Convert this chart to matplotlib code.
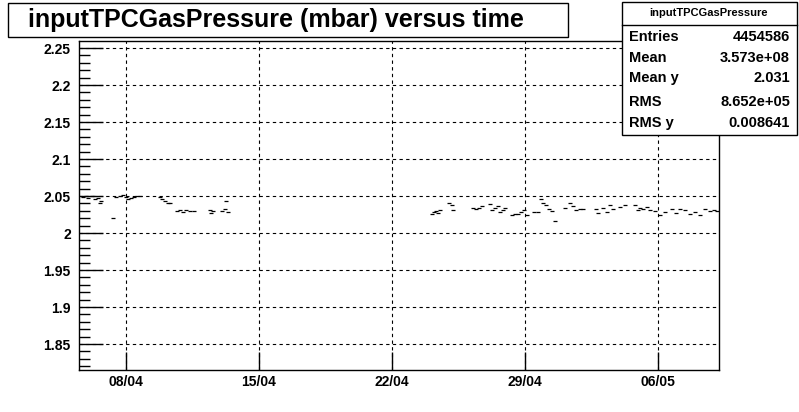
import matplotlib
matplotlib.use("Agg")
import matplotlib.pyplot as plt
import matplotlib.dates as mdates
from matplotlib.patches import Rectangle
from matplotlib.ticker import MultipleLocator, FixedLocator
from datetime import datetime, timedelta

# time as day of April (values > 30 run into May), pressure in mbar
day = [5.74, 5.89, 6.00, 6.21, 6.37, 6.53, 6.63, 6.68, 7.32, 7.47, 7.68, 7.84,
       8.00, 8.11, 8.26, 8.42, 8.58, 8.74, 9.79, 9.89, 10.05, 10.21, 10.32,
       10.68, 10.84, 11.00, 11.16, 11.37, 11.58, 12.42, 12.47, 12.58, 13.05,
       13.21, 13.26, 13.37,
       24.11, 24.21, 24.32, 24.42, 24.53, 25.00, 25.16, 25.21, 26.26, 26.42,
       26.58, 26.74, 27.16, 27.26, 27.42, 27.58, 27.68, 27.84, 27.95, 28.32,
       28.47, 28.63, 28.79, 28.95, 29.11, 29.47, 29.68, 29.84, 29.95, 30.11,
       30.26, 30.42, 30.58, 31.11, 31.37, 31.53, 31.68, 31.89, 32.05, 32.74,
       32.84, 33.11, 33.32, 33.47, 33.63, 34.00, 34.26, 34.79, 34.95, 35.05,
       35.21, 35.42, 35.58, 35.84, 36.11, 36.37, 36.74, 36.95, 37.16, 37.42,
       37.68, 37.95, 38.21, 38.47, 38.74, 38.95, 39.11]
pressure = [2.049, 2.050, 2.047, 2.050, 2.046, 2.047, 2.040, 2.043, 2.020, 2.049,
            2.050, 2.051, 2.049, 2.046, 2.047, 2.049, 2.050, 2.050, 2.049, 2.046,
            2.043, 2.040, 2.040, 2.030, 2.031, 2.028, 2.031, 2.030, 2.030, 2.031,
            2.027, 2.030, 2.030, 2.032, 2.043, 2.028,
            2.026, 2.028, 2.030, 2.027, 2.031, 2.041, 2.038, 2.031, 2.034, 2.032,
            2.034, 2.036, 2.039, 2.031, 2.034, 2.036, 2.028, 2.031, 2.034, 2.024,
            2.026, 2.026, 2.028, 2.031, 2.024, 2.028, 2.028, 2.046, 2.041, 2.038,
            2.032, 2.030, 2.016, 2.034, 2.041, 2.036, 2.031, 2.032, 2.032, 2.032,
            2.027, 2.034, 2.028, 2.038, 2.032, 2.035, 2.038, 2.038, 2.031, 2.034,
            2.032, 2.035, 2.031, 2.030, 2.024, 2.028, 2.032, 2.027, 2.032, 2.031,
            2.026, 2.028, 2.024, 2.032, 2.030, 2.031, 2.030]

tick_days = [8, 15, 22, 29, 36]

stat_names = ["Entries", "Mean", "Mean y", "RMS", "RMS y"]
stat_values = ["4454586", "3.573e+08", "2.031", "8.652e+05", "0.008641"]

base = datetime(2010, 4, 1)
times = [base + timedelta(days=d - 1) for d in day]
tick_times = [mdates.date2num(base + timedelta(days=d - 1)) for d in tick_days]

plt.rcParams['font.family'] = ['Liberation Sans', 'DejaVu Sans']
fig = plt.figure(figsize=(7.99, 4.12), dpi=100)
ax = fig.add_axes([79 / 799, 42 / 412, 640 / 799, 329 / 412])

ax.plot(times, pressure, linestyle='none', marker='_', markersize=2.5,
        markeredgewidth=0.9, color='black')

ax.set_xlim(base + timedelta(days=4.53), base + timedelta(days=38.2))
ax.set_ylim(1.815, 2.2595)

ax.xaxis.set_major_locator(FixedLocator(tick_times))
ax.xaxis.set_minor_locator(FixedLocator([]))
ax.xaxis.set_major_formatter(mdates.DateFormatter('%d/%m'))
ax.yaxis.set_major_locator(MultipleLocator(0.05))
ax.yaxis.set_minor_locator(MultipleLocator(0.01))
ax.yaxis.set_major_formatter(plt.FuncFormatter(lambda v, p: f"{v:.2f}".rstrip('0').rstrip('.')))

ax.grid(True, which='major', linestyle=(0, (3, 3)), color='black', linewidth=0.8)
ax.tick_params(axis='y', which='major', direction='in', length=17, width=1,
               labelsize=10, pad=6)
ax.tick_params(axis='y', which='minor', direction='in', length=8, width=1)
ax.tick_params(axis='x', which='major', direction='in', length=13, width=1,
               labelsize=10, pad=3.5)
for lab in ax.get_xticklabels() + ax.get_yticklabels():
    lab.set_fontweight('bold')
for s in ax.spines.values():
    s.set_linewidth(1)

# title box
fig.patches.append(Rectangle((8 / 799, 1 - 37 / 412), 560 / 799, 34 / 412,
                             transform=fig.transFigure, facecolor='white',
                             edgecolor='black', linewidth=1))
fig.text(28 / 799, 1 - 20 / 412, "inputTPCGasPressure (mbar) versus time",
         fontsize=18, fontweight='bold', va='center', ha='left')

# stats box
fig.patches.append(Rectangle((622 / 799, 1 - 135 / 412), 175 / 799, 133 / 412,
                             transform=fig.transFigure, facecolor='white',
                             edgecolor='black', linewidth=1, zorder=5))
fig.lines.append(plt.Line2D([622 / 799, 797 / 799], [1 - 25 / 412] * 2,
                            transform=fig.transFigure, color='black',
                            linewidth=1, zorder=6))
fig.text(709 / 799, 1 - 13 / 412, "inputTPCGasPressure", fontsize=8,
         fontweight='bold', ha='center', va='center', zorder=7)
row_y = [37, 58, 78, 102, 123]
for name, val, y in zip(stat_names, stat_values, row_y):
    fig.text(629 / 799, 1 - y / 412, name, fontsize=10.5, fontweight='bold',
             ha='left', va='center', zorder=7)
    fig.text(790 / 799, 1 - y / 412, val, fontsize=10.5, fontweight='bold',
             ha='right', va='center', zorder=7)

fig.savefig("out.png", dpi=100)
